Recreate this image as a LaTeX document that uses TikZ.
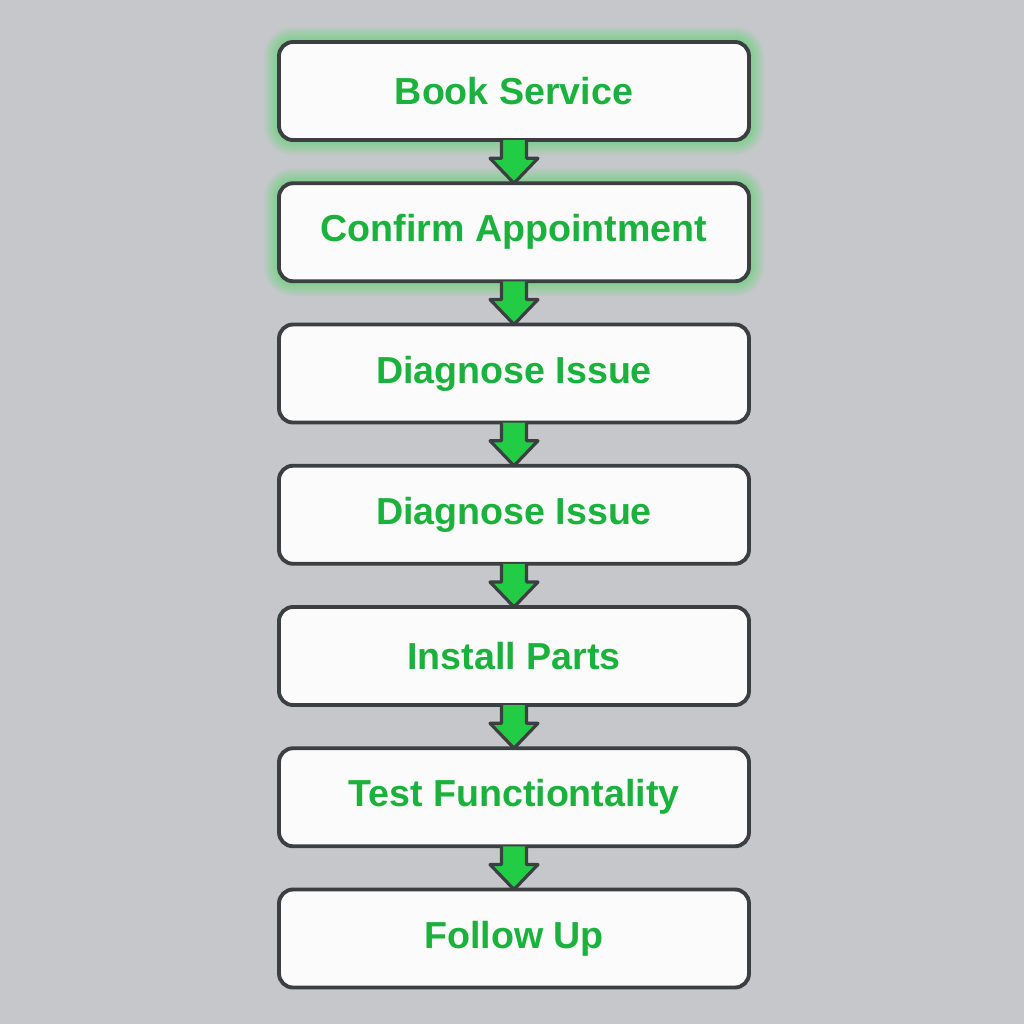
\documentclass[tikz,border=0pt]{standalone}
\usepackage{fontspec}
\setmainfont{Liberation Sans}
\usepackage{tikz}
\usepackage{xcolor}
\usetikzlibrary{arrows.meta, positioning, calc, backgrounds}
\definecolor{pageBg}{RGB}{197, 199, 203}
\definecolor{boxFill}{RGB}{251, 251, 251}
\definecolor{boxBorder}{RGB}{60, 63, 66}
\definecolor{stepText}{RGB}{26, 178, 60}
\definecolor{arrowGreen}{RGB}{34, 204, 68}
\definecolor{glowGreen}{RGB}{60, 220, 80}

\begin{document}
\begin{tikzpicture}[node distance=0.865cm]

% Style definitions
\tikzset{
    stepbox/.style={
        rectangle, draw=boxBorder, line width=2.2pt, fill=boxFill, rounded corners=0.28cm,
        minimum width=9.4cm, minimum height=1.96cm, outer sep=0pt, align=center,
        font=\fontsize{21.4}{26}\selectfont\bfseries, text=stepText
    },
    flow/.style={
        draw=boxBorder, fill=arrowGreen, line width=1.8pt, line join=round,
        to path={
            ($(\tikztostart.south)+(-0.25,0)$) -- ($(\tikztotarget.north)+(-0.25,0.5)$)
            -- ($(\tikztotarget.north)+(-0.48,0.5)$) -- (\tikztotarget.north)
            -- ($(\tikztotarget.north)+(0.48,0.5)$) -- ($(\tikztotarget.north)+(0.25,0.5)$)
            -- ($(\tikztostart.south)+(0.25,0)$)
        }
    }
}

% Steps
\node (book) [stepbox, anchor=north] at (10.28,-0.84) {Book Service};
\node (confirm) [stepbox, below=of book] {Confirm Appointment};
\node (diagnose) [stepbox, below=of confirm] {Diagnose Issue};
\node (diagnose_two) [stepbox, below=of diagnose] {Diagnose Issue};
\node (install) [stepbox, below=of diagnose_two] {Install Parts};
\node (test) [stepbox, below=of install] {Test Functiontality};
\node (follow) [stepbox, below=of test] {Follow Up};

% Page background and glow round the first two steps
\begin{pgfonlayer}{background}
    \fill [pageBg] (0,0) rectangle (20.48,-20.48);
    \foreach \n in {book, confirm} {
        \foreach \i in {1,...,10} {
            \fill [glowGreen, opacity=0.06, rounded corners=0.28cm+\i*0.03cm]
                ($(\n.south west)+(-\i*0.03,-\i*0.03)$) rectangle ($(\n.north east)+(\i*0.03,\i*0.03)$);
        }
    }
\end{pgfonlayer}

% Connections
\draw [flow] (book) to (confirm);
\draw [flow] (confirm) to (diagnose);
\draw [flow] (diagnose) to (diagnose_two);
\draw [flow] (diagnose_two) to (install);
\draw [flow] (install) to (test);
\draw [flow] (test) to (follow);

\end{tikzpicture}
\end{document}
